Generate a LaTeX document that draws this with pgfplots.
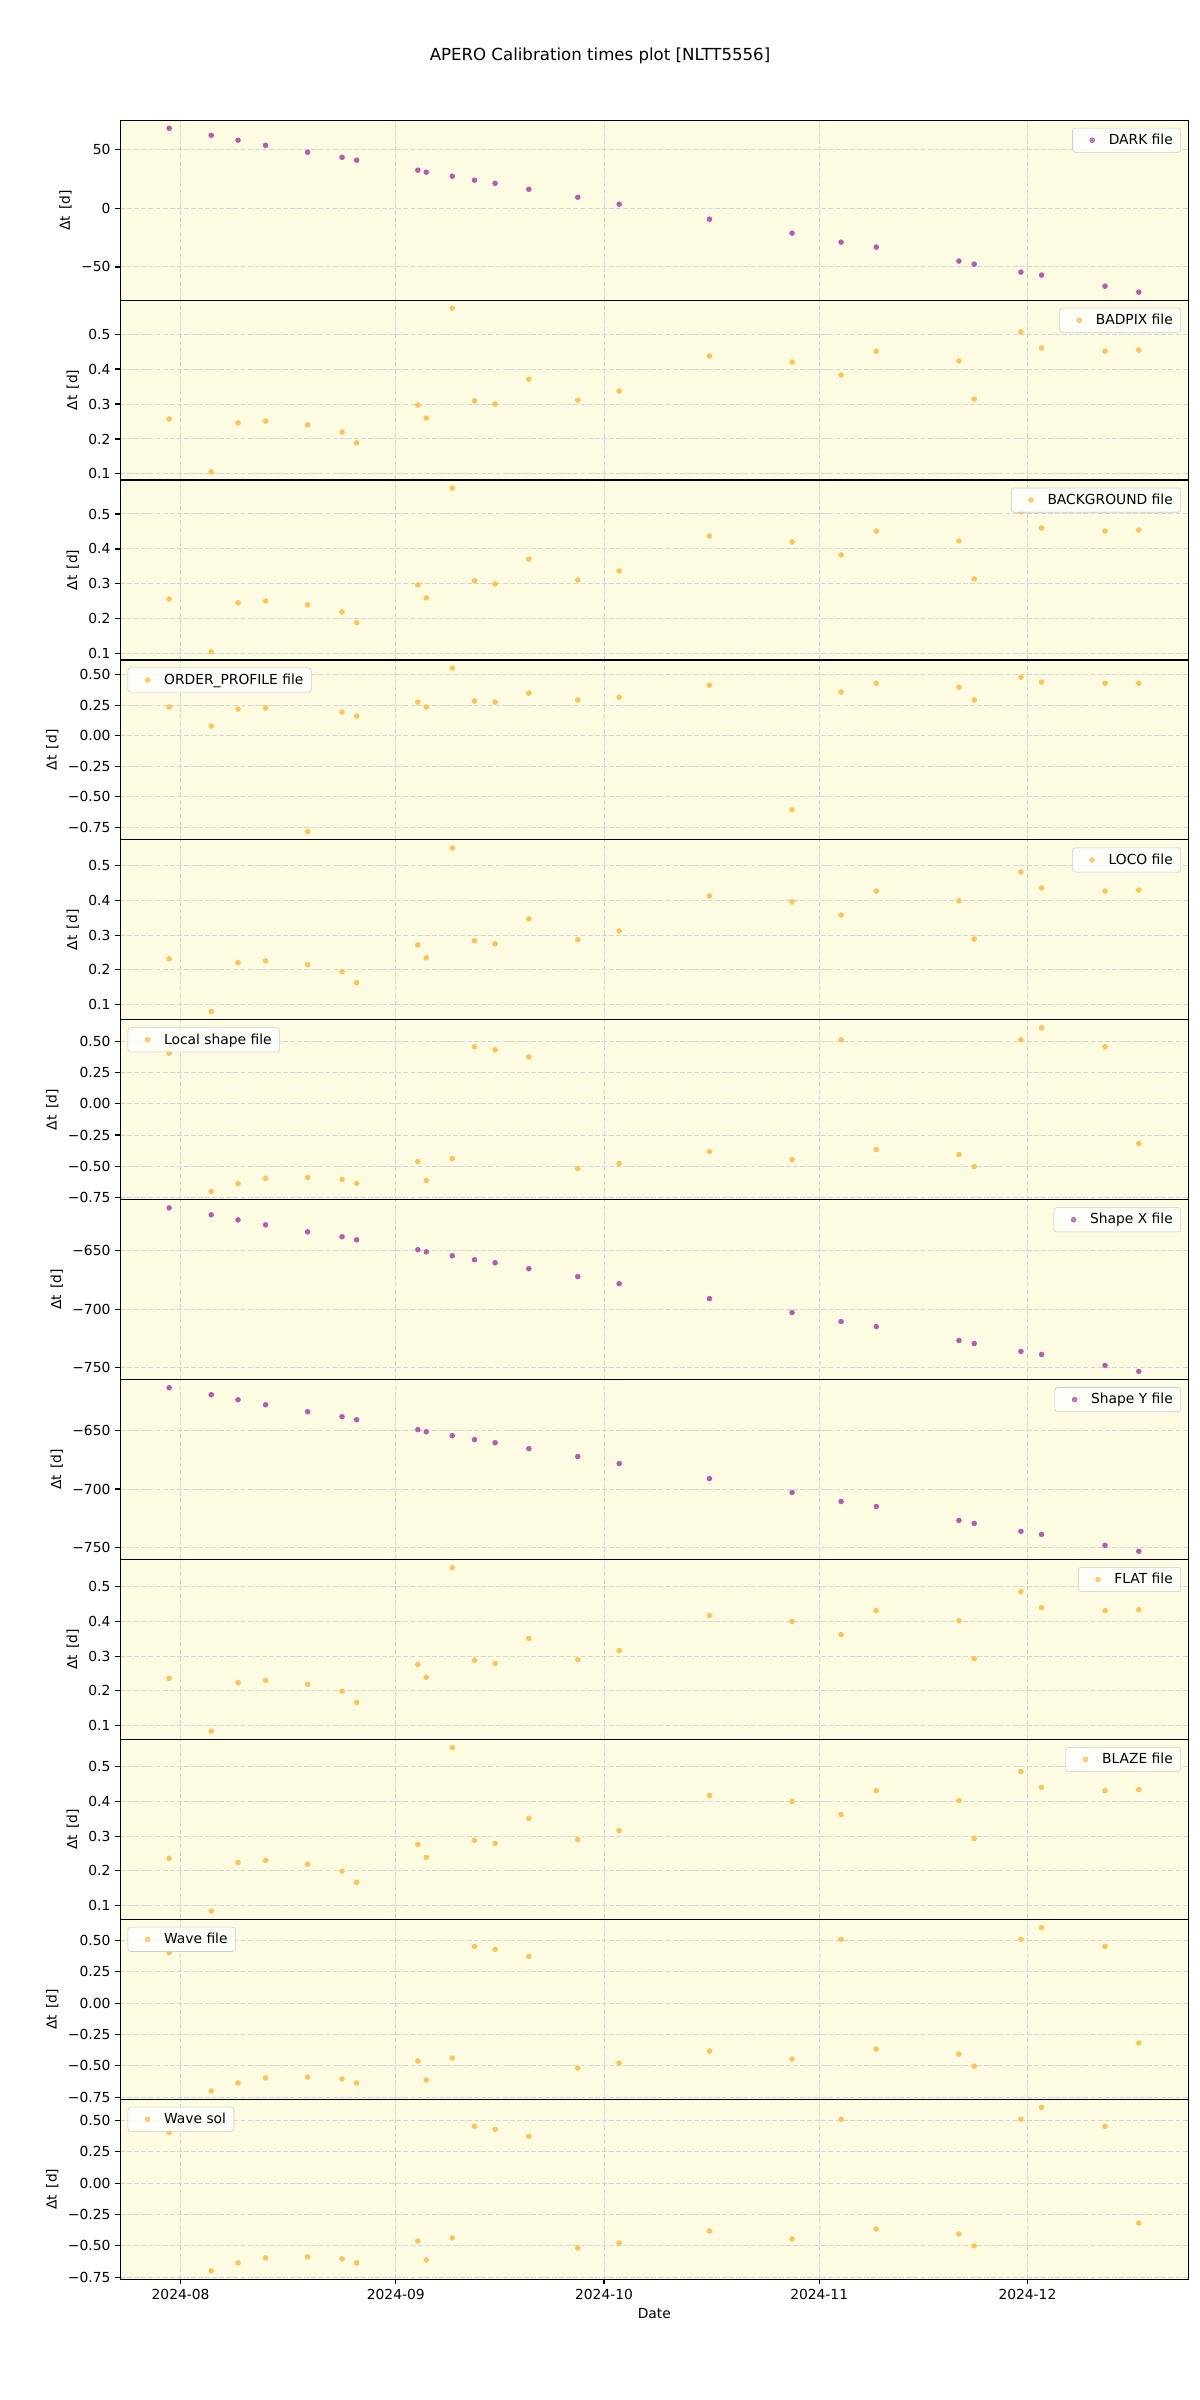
\documentclass[border=0pt]{standalone}
\usepackage{fontspec}
\setmainfont{DejaVu Sans}
\usepackage{pgfplots}
\usepackage{pgfplotstable}
\pgfplotsset{compat=1.18}

\definecolor{bgy}{RGB}{253,251,226}
\definecolor{pur}{RGB}{180,92,178}
\definecolor{org}{RGB}{255,196,82}
\definecolor{gridc}{RGB}{212,212,212}

% x = days since 2024-08-01
\pgfplotstableread{
x y
-1.65 68.0
4.41 62.0
8.27 57.8
12.24 53.5
18.30 47.6
23.26 43.3
25.36 40.8
34.18 32.3
35.39 30.6
39.14 27.2
42.34 23.8
45.31 21.2
50.17 16.1
57.22 9.3
63.18 3.4
76.19 -9.3
88.09 -21.2
95.15 -28.9
100.22 -33.1
112.13 -45.0
114.33 -47.6
121.06 -54.4
124.03 -56.9
133.18 -66.3
138.04 -71.4
}\tdark

\pgfplotstableread{
x y
-1.65 0.257
4.41 0.106
8.27 0.246
12.24 0.251
18.30 0.240
23.26 0.220
25.36 0.189
34.18 0.297
35.39 0.260
39.14 0.574
42.34 0.309
45.31 0.300
50.17 0.371
57.22 0.311
63.18 0.337
76.19 0.437
88.09 0.420
95.15 0.383
100.22 0.451
112.13 0.423
114.33 0.314
121.06 0.506
124.03 0.460
133.18 0.451
138.04 0.454
}\tbadpix

\pgfplotstableread{
x y
-1.65 0.234
4.41 0.079
8.27 0.217
12.24 0.226
18.30 -0.785
23.26 0.193
25.36 0.160
34.18 0.274
35.39 0.234
39.14 0.552
42.34 0.283
45.31 0.274
50.17 0.348
57.22 0.291
63.18 0.315
76.19 0.413
88.09 -0.606
95.15 0.356
100.22 0.429
112.13 0.397
114.33 0.291
121.06 0.478
124.03 0.438
133.18 0.429
138.04 0.429
}\torder

\pgfplotstableread{
x y
-1.65 0.232
4.41 0.080
8.27 0.221
12.24 0.226
18.30 0.215
23.26 0.195
25.36 0.163
34.18 0.272
35.39 0.235
39.14 0.551
42.34 0.284
45.31 0.275
50.17 0.347
57.22 0.287
63.18 0.312
76.19 0.413
88.09 0.396
95.15 0.358
100.22 0.427
112.13 0.399
114.33 0.289
121.06 0.482
124.03 0.436
133.18 0.427
138.04 0.430
}\tloco

\pgfplotstableread{
x y
-1.65 0.403
4.41 -0.701
8.27 -0.637
12.24 -0.597
18.30 -0.589
23.26 -0.605
25.36 -0.637
34.18 -0.462
35.39 -0.613
39.14 -0.438
42.34 0.454
45.31 0.430
50.17 0.374
57.22 -0.518
63.18 -0.478
76.19 -0.382
88.09 -0.446
95.15 0.510
100.22 -0.366
112.13 -0.406
114.33 -0.502
121.06 0.510
124.03 0.605
133.18 0.454
138.04 -0.318
}\tlocal

\pgfplotstableread{
x y
-1.65 -613.2
4.41 -619.2
8.27 -623.5
12.24 -627.8
18.30 -633.8
23.26 -638.0
25.36 -640.6
34.18 -649.1
35.39 -650.9
39.14 -654.3
42.34 -657.7
45.31 -660.3
50.17 -665.4
57.22 -672.2
63.18 -678.2
76.19 -691.0
88.09 -703.0
95.15 -710.7
100.22 -715.0
112.13 -726.9
114.33 -729.5
121.06 -736.3
124.03 -738.9
133.18 -748.3
138.04 -753.4
}\tshape

\pgfplotstableread{
x y
-1.65 0.236
4.41 0.084
8.27 0.224
12.24 0.230
18.30 0.219
23.26 0.199
25.36 0.167
34.18 0.276
35.39 0.239
39.14 0.555
42.34 0.288
45.31 0.279
50.17 0.351
57.22 0.290
63.18 0.316
76.19 0.417
88.09 0.400
95.15 0.362
100.22 0.431
112.13 0.402
114.33 0.293
121.06 0.486
124.03 0.440
133.18 0.431
138.04 0.434
}\tflat

\pgfplotsset{
  calib/.style={
    scale only axis, width=769.2bp, height=129.5bp,
    anchor=south west,
    xmin=-8.71, xmax=145.2,
    xtick={0,31,61,92,122}, xticklabels={},
    xtick style={draw=none},
    xtick pos=lower, ytick pos=left,
    axis background/.style={fill=bgy},
    axis line style={black, line width=0.8bp},
    grid=major,
    major grid style={gridc, line width=0.7bp, dash pattern=on 3.5bp off 1.6bp},
    tick align=outside, major tick length=3.5bp,
    ytick style={black, line width=0.8bp},
    tick label style={font=\fontsize{10}{12}\selectfont},
    label style={font=\fontsize{10}{12}\selectfont},
    ylabel={Δt\hspace{0.45em}[d]},
    legend style={draw=black!20, rounded corners=2bp, fill=white, fill opacity=0.8,
      draw opacity=1, text opacity=1, inner xsep=4bp, inner ysep=2.5bp,
      font=\fontsize{10}{12}\selectfont, nodes={inner sep=1.7bp},
      /tikz/every even column/.append style={column sep=8.3bp}},
    legend cell align=left,
    legend image code/.code={\path (0bp,-3bp) (20bp,3bp); \draw[##1] plot coordinates {(10bp,0bp)};},
  },
  tr/.style={legend style={at={(1,1)}, anchor=north east, xshift=-5.4bp, yshift=-5.5bp}},
  tl/.style={legend style={at={(0,1)}, anchor=north west, xshift=5.4bp, yshift=-5.5bp}},
  yA/.style={ytick={0.1,0.2,0.3,0.4,0.5}, yticklabels={0.1,0.2,0.3,0.4,0.5}},
  yB/.style={ytick={-0.75,-0.5,-0.25,0,0.25,0.5}, yticklabels={−0.75,−0.50,−0.25,0.00,0.25,0.50}},
  yS/.style={ymin=-760.4, ymax=-606.2, ytick={-750,-700,-650}, yticklabels={−750,−700,−650}},
  mp/.style={only marks, mark=*, mark size=1.75bp, color=pur},
  mo/.style={only marks, mark=*, mark size=1.75bp, color=org},
}

\begin{document}
\begin{tikzpicture}
\useasboundingbox (0,0) rectangle (864bp,1728bp);
\node[font=\fontsize{12}{14}\selectfont] at (432bp,1687.7bp) {APERO Calibration times plot [NLTT5556]};

\begin{axis}[calib, tr, at={(86.5bp,1511.9bp)}, ymin=-78.2, ymax=74.8, ytick={-50,0,50}, yticklabels={−50,0,50}]
\addplot[mp] table[x=x,y=y] {\tdark};
\addlegendentry{DARK file}
\end{axis}

\begin{axis}[calib, tr, yA, at={(86.5bp,1382.37bp)}, ymin=0.0826, ymax=0.597]
\addplot[mo] table[x=x,y=y] {\tbadpix};
\addlegendentry{BADPIX file}
\end{axis}

\begin{axis}[calib, tr, yA, at={(86.5bp,1252.84bp)}, ymin=0.0826, ymax=0.597]
\addplot[mo] table[x=x,y=y] {\tbadpix};
\addlegendentry{BACKGROUND file}
\end{axis}

\begin{axis}[calib, tl, yB, at={(86.5bp,1123.31bp)}, ymin=-0.852, ymax=0.619]
\addplot[mo] table[x=x,y=y] {\torder};
\addlegendentry{ORDER\_PROFILE file}
\end{axis}

\begin{axis}[calib, tr, yA, at={(86.5bp,993.78bp)}, ymin=0.0564, ymax=0.5746]
\addplot[mo] table[x=x,y=y] {\tloco};
\addlegendentry{LOCO file}
\end{axis}

\begin{axis}[calib, tl, yB, at={(86.5bp,864.25bp)}, ymin=-0.766, ymax=0.670]
\addplot[mo] table[x=x,y=y] {\tlocal};
\addlegendentry{Local shape file}
\end{axis}

\begin{axis}[calib, tr, yS, at={(86.5bp,734.72bp)}]
\addplot[mp] table[x=x,y=y] {\tshape};
\addlegendentry{Shape X file}
\end{axis}

\begin{axis}[calib, tr, yS, at={(86.5bp,605.19bp)}]
\addplot[mp] table[x=x,y=y] {\tshape};
\addlegendentry{Shape Y file}
\end{axis}

\begin{axis}[calib, tr, yA, at={(86.5bp,475.66bp)}, ymin=0.0604, ymax=0.5786]
\addplot[mo] table[x=x,y=y] {\tflat};
\addlegendentry{FLAT file}
\end{axis}

\begin{axis}[calib, tr, yA, at={(86.5bp,346.13bp)}, ymin=0.0604, ymax=0.5786]
\addplot[mo] table[x=x,y=y] {\tflat};
\addlegendentry{BLAZE file}
\end{axis}

\begin{axis}[calib, tl, yB, at={(86.5bp,216.6bp)}, ymin=-0.766, ymax=0.670]
\addplot[mo] table[x=x,y=y] {\tlocal};
\addlegendentry{Wave file}
\end{axis}

\begin{axis}[calib, tl, yB, at={(86.5bp,87.07bp)}, ymin=-0.766, ymax=0.670,
  xticklabels={2024-08,2024-09,2024-10,2024-11,2024-12},
  xtick style={draw=black, line width=0.8bp},
  xlabel={Date}]
\addplot[mo] table[x=x,y=y] {\tlocal};
\addlegendentry{Wave sol}
\end{axis}
\end{tikzpicture}
\end{document}
